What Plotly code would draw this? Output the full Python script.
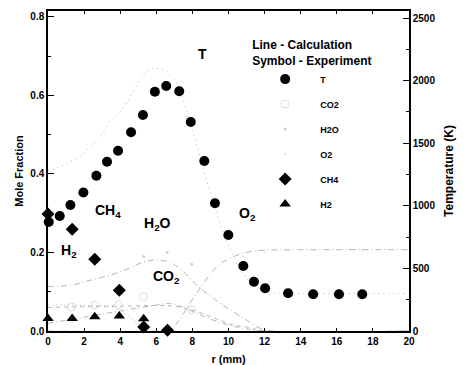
import plotly.graph_objects as go

# ---- experimental data (symbols) ----
r_T_exp = [0.04, 0.65, 1.24, 1.96, 2.68, 3.27, 3.88, 4.60, 5.26, 5.92, 6.55, 7.27,
           7.91, 8.66, 9.25, 9.99, 10.82, 11.41, 12.03, 13.30, 14.69, 16.12, 17.41]
T_exp = [870, 919, 1006, 1106, 1240, 1352, 1440, 1587, 1725, 1911, 1957, 1915,
         1669, 1358, 1020, 767, 519, 394, 341, 301, 293, 293, 293]

r_CO2_exp = [1.3, 2.6, 3.9, 5.3, 7.96]
CO2_exp = [0.061, 0.066, 0.066, 0.087, 0.054]

r_H2O_exp = [5.3, 6.6, 7.96]
H2O_exp = [0.19, 0.20, 0.17]

r_O2_exp = [9.25, 10.8, 12.0, 13.3, 14.7, 16.1, 17.4]
O2_exp = [0.16, 0.19, 0.20, 0.205, 0.206, 0.206, 0.206]

r_CH4_exp = [0.0, 1.34, 2.59, 3.95, 5.30, 6.62]
CH4_exp = [0.298, 0.259, 0.183, 0.104, 0.010, 0.002]

r_H2_exp = [0.0, 1.34, 2.59, 3.95, 5.30]
H2_exp = [0.032, 0.032, 0.036, 0.038, 0.031]

# ---- calculated profiles (lines) ----
r_T_calc = [0, 0.7, 1.4, 1.8, 2.35, 2.9, 3.45, 4.0, 4.56, 5.11, 5.48, 5.94, 6.5,
            7.04, 8, 9, 10, 11, 12, 13, 14, 16, 18, 20]
T_calc = [1280, 1312, 1366, 1398, 1472, 1552, 1672, 1752, 1871, 2005, 2071, 2098, 2079,
          2005, 1600, 1100, 680, 420, 320, 300, 300, 300, 300, 300]

r_H2O_calc = [0, 1.3, 2.4, 3.5, 4.5, 5.3, 6.0, 6.8, 7.5, 8.43, 9.7, 11.0, 11.74, 12.5, 20]
H2O_calc = [0.113, 0.117, 0.13, 0.143, 0.16, 0.176, 0.181, 0.174, 0.151, 0.109, 0.066,
            0.028, 0.007, 0.0, 0.0]

r_O2_calc = [0, 6.5, 6.8, 7.3, 7.87, 8.43, 9.35, 10.25, 11.19, 12.1, 14, 20]
O2_calc = [0, 0, 0.002, 0.03, 0.071, 0.109, 0.164, 0.189, 0.202, 0.206, 0.207, 0.207]

r_CO2_calc = [0, 2, 4, 6, 7, 7.96, 9.2, 10.3, 11, 12, 20]
CO2_calc = [0.060, 0.062, 0.063, 0.065, 0.063, 0.054, 0.033, 0.015, 0.010, 0.0, 0.0]

r_H2_calc = [0, 1, 2, 3, 4, 5, 6, 6.8, 7.5, 8.5, 9.5, 10.5, 12, 20]
H2_calc = [0.020, 0.027, 0.035, 0.043, 0.051, 0.059, 0.066, 0.070, 0.060, 0.040, 0.022,
           0.010, 0.0, 0.0]

r_CH4_calc = [0, 1, 2, 3, 3.8, 4.5, 5.3, 6.0, 20]
CH4_calc = [0.066, 0.066, 0.065, 0.064, 0.062, 0.035, 0.011, 0.0, 0.0]

LINE = "#b4b4b4"
FONT = "Liberation Sans, Arial, sans-serif"

fig = go.Figure()

def calc(x, y, dash, axis="y"):
    fig.add_trace(go.Scatter(x=x, y=y, mode="lines", yaxis=axis, showlegend=False,
                             line=dict(color=LINE, width=1, dash=dash, shape="spline"),
                             hoverinfo="skip"))

calc(r_T_calc, T_calc, "1px,4px", "y2")
calc(r_H2O_calc, H2O_calc, "6px,3px,1px,3px")
calc(r_O2_calc, O2_calc, "6px,3px,1px,3px")
calc(r_CO2_calc, CO2_calc, "4px,4px")
calc(r_H2_calc, H2_calc, "5px,3px,1px,3px")
calc(r_CH4_calc, CH4_calc, "1px,3px")

def exp(x, y, name, symbol, size, color, axis="y", lw=0):
    fig.add_trace(go.Scatter(x=x, y=y, mode="markers", name=name, yaxis=axis,
                             legendgroup=name, cliponaxis=False,
                             marker=dict(symbol=symbol, size=size, color=color,
                                         line=dict(width=lw, color=color))))

exp(r_T_exp, T_exp, "T", "circle", 10, "black", "y2")
exp(r_CO2_exp, CO2_exp, "CO2", "circle-open", 8, "#dcdcdc", lw=1)
exp(r_H2O_exp, H2O_exp, "H2O", "circle", 3, "#d0d0d0")
exp(r_O2_exp, O2_exp, "O2", "circle", 2, "#dcdcdc")
exp(r_CH4_exp, CH4_exp, "CH4", "diamond", 10, "black")
exp(r_H2_exp, H2_exp, "H2", "triangle-up", 10, "black")

# species / temperature labels
labels = [
    (8.56, 0.706, "T"),
    (6.07, 0.273, "H<sub>2</sub>O"),
    (6.56, 0.138, "CO<sub>2</sub>"),
    (3.30, 0.306, "CH<sub>4</sub>"),
    (1.14, 0.204, "H<sub>2</sub>"),
    (11.05, 0.298, "O<sub>2</sub>"),
]
for lx, ly, txt in labels:
    fig.add_annotation(x=lx, y=ly, xref="x", yref="y", text=txt, showarrow=False,
                       font=dict(family=FONT, size=14, color="black", weight="bold"))

tick_font = dict(family=FONT, size=10, color="black", weight="bold")
title_font = dict(family=FONT, size=11, color="black", weight="bold")

fig.update_layout(
    width=463, height=365,
    margin=dict(l=48, r=54, t=11, b=34, autoexpand=False),
    paper_bgcolor="white", plot_bgcolor="white",
    showlegend=True,
    legend=dict(
        x=0.56, y=0.93, xanchor="left", yanchor="top",
        bgcolor="rgba(0,0,0,0)",
        title=dict(text="Line - Calculation<br>Symbol - Experiment",
                   font=dict(family=FONT, size=12, color="black", weight="bold")),
        font=dict(family=FONT, size=9, color="black", weight="bold"),
        traceorder="grouped", tracegroupgap=6, itemwidth=60,
    ),
    xaxis=dict(
        range=[0, 20], dtick=2, tick0=0, ticks="inside", ticklen=3, tickwidth=1,
        tickcolor="black", showline=True, linecolor="black", linewidth=1.5,
        mirror="ticks", showgrid=False, zeroline=False, tickfont=tick_font,
        automargin=False,
        title=dict(text="r (mm)", font=title_font, standoff=10),
    ),
    xaxis3=dict(
        range=[0, 20], dtick=4, tick0=0, ticks="inside", ticklen=6, tickwidth=1,
        tickcolor="black", overlaying="x", anchor="y", showticklabels=False,
        showline=False, mirror="ticks", showgrid=False, zeroline=False,
    ),
    yaxis=dict(
        range=[0, 0.815], dtick=0.2, tick0=0, tickformat=".1f", ticks="inside",
        ticklen=6, tickwidth=1, tickcolor="black",
        minor=dict(dtick=0.1, ticks="inside", ticklen=3, tickcolor="black", showgrid=False),
        showline=True, linecolor="black", linewidth=1.5, showgrid=False, zeroline=False,
        tickfont=tick_font, automargin=False,
        title=dict(text="Mole Fraction", font=title_font, standoff=4),
    ),
    yaxis2=dict(
        range=[0, 2556], dtick=500, tick0=0, overlaying="y", side="right",
        ticks="inside", ticklen=6, tickwidth=1, tickcolor="black",
        minor=dict(dtick=250, ticks="inside", ticklen=3, tickcolor="black", showgrid=False),
        showline=True, linecolor="black", linewidth=1.5, showgrid=False, zeroline=False,
        tickfont=tick_font, automargin=False,
        title=dict(text="Temperature (K)", font=dict(family=FONT, size=12, color="black",
                                                     weight="bold"), standoff=10),
    ),
)

fig.write_html("out.html")
